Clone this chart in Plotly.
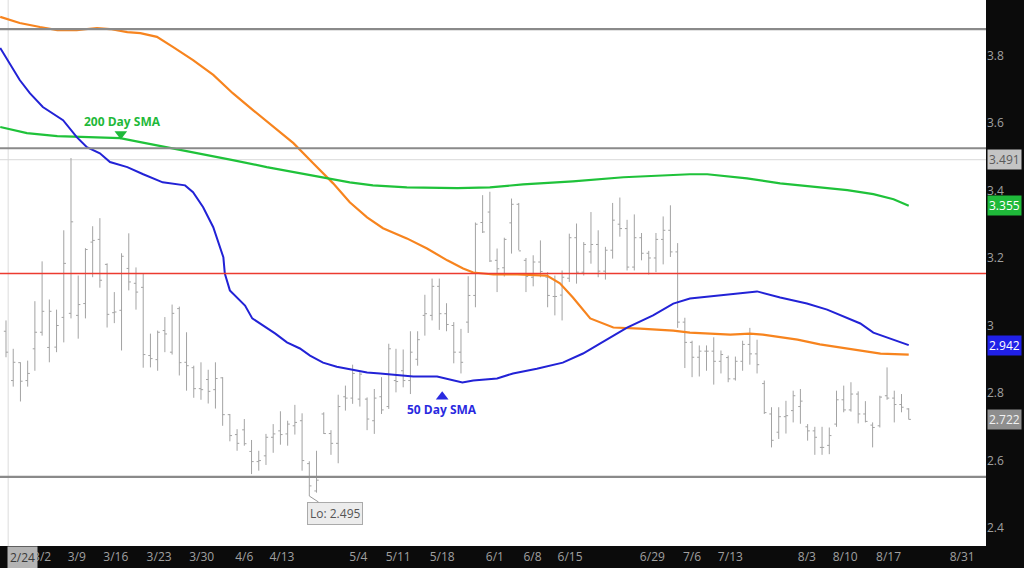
import plotly.graph_objs as go

# daily OHLC bars (trading day index 0..125)
opens = [2.983, 2.837, 2.890, 2.837, 2.931, 2.980, 2.935, 2.936, 3.024, 3.036,
         3.030, 3.065, 3.247, 3.255, 3.181, 3.038, 3.045, 3.169, 3.125, 3.113,
         2.911, 2.899, 2.985, 2.921, 3.050, 2.891, 2.875, 2.813, 2.840, 2.810,
         2.845, 2.736, 2.677, 2.691, 2.627, 2.597, 2.614, 2.669, 2.688, 2.679,
         2.703, 2.718, 2.591, 2.510, 2.738, 2.680, 2.651, 2.789, 2.785, 2.782,
         2.782, 2.718, 2.789, 2.760, 2.837, 2.866, 2.837, 2.900, 3.030, 3.030,
         3.116, 3.035, 3.000, 2.921, 3.010, 3.089, 3.305, 3.336, 3.193, 3.171,
         3.304, 3.359, 3.193, 3.143, 3.188, 3.143, 3.086, 3.090, 3.140, 3.260,
         3.158, 3.218, 3.240, 3.161, 3.223, 3.300, 3.287, 3.173, 3.260, 3.214,
         3.200, 3.255, 3.282, 3.218, 3.010, 2.950, 2.906, 2.924, 2.924, 2.894,
         2.905, 2.842, 2.894, 2.944, 2.916, 2.828, 2.738, 2.684, 2.730, 2.748,
         2.760, 2.700, 2.688, 2.639, 2.645, 2.708, 2.780, 2.750, 2.797, 2.738,
         2.705, 2.703, 2.792, 2.785, 2.766, 2.753]
highs = [3.015, 2.931, 2.891, 2.896, 3.072, 3.190, 3.077, 3.047, 3.282, 3.496,
         3.148, 3.229, 3.294, 3.318, 3.184, 3.099, 3.214, 3.273, 3.172, 3.154,
         2.976, 2.985, 3.025, 3.062, 3.056, 2.980, 2.881, 2.891, 2.869, 2.891,
         2.847, 2.738, 2.693, 2.723, 2.661, 2.629, 2.679, 2.708, 2.746, 2.718,
         2.765, 2.740, 2.598, 2.629, 2.743, 2.690, 2.795, 2.822, 2.884, 2.865,
         2.787, 2.812, 2.847, 2.946, 2.931, 2.929, 2.983, 2.983, 3.091, 3.139,
         3.139, 3.066, 3.010, 2.990, 3.146, 3.305, 3.386, 3.396, 3.228, 3.260,
         3.376, 3.363, 3.200, 3.208, 3.252, 3.158, 3.148, 3.163, 3.272, 3.302,
         3.247, 3.336, 3.282, 3.233, 3.363, 3.379, 3.313, 3.329, 3.274, 3.221,
         3.274, 3.323, 3.356, 3.244, 3.023, 2.955, 2.941, 2.941, 2.965, 2.926,
         2.911, 2.908, 2.955, 2.993, 2.958, 2.837, 2.758, 2.758, 2.777, 2.807,
         2.812, 2.708, 2.700, 2.700, 2.698, 2.807, 2.822, 2.832, 2.805, 2.776,
         2.713, 2.792, 2.876, 2.807, 2.797, 2.755]
lows = [2.906, 2.819, 2.775, 2.819, 2.866, 2.970, 2.891, 2.921, 2.950, 3.021,
        2.961, 3.021, 3.143, 3.112, 2.994, 3.007, 2.926, 3.104, 3.047, 2.875,
        2.876, 2.866, 2.921, 2.914, 2.852, 2.807, 2.786, 2.780, 2.769, 2.754,
        2.703, 2.657, 2.629, 2.644, 2.560, 2.570, 2.587, 2.623, 2.647, 2.644,
        2.677, 2.570, 2.495, 2.505, 2.679, 2.617, 2.592, 2.748, 2.768, 2.760,
        2.690, 2.679, 2.738, 2.753, 2.802, 2.817, 2.797, 2.881, 2.970, 3.015,
        2.987, 2.983, 2.888, 2.858, 2.978, 3.054, 3.274, 3.188, 3.099, 3.145,
        3.213, 3.223, 3.099, 3.116, 3.143, 3.054, 3.030, 3.015, 3.129, 3.124,
        3.148, 3.183, 3.143, 3.136, 3.198, 3.263, 3.163, 3.163, 3.193, 3.151,
        3.158, 3.181, 3.203, 2.993, 2.874, 2.847, 2.849, 2.866, 2.825, 2.858,
        2.832, 2.837, 2.866, 2.884, 2.858, 2.738, 2.639, 2.664, 2.680, 2.713,
        2.709, 2.659, 2.617, 2.617, 2.619, 2.700, 2.743, 2.745, 2.710, 2.713,
        2.639, 2.698, 2.780, 2.713, 2.743, 2.722]
closes = [2.921, 2.891, 2.835, 2.858, 2.980, 3.042, 3.042, 3.000, 3.184, 3.307,
          3.062, 3.225, 3.252, 3.134, 3.033, 3.040, 3.205, 3.129, 3.099, 2.914,
          2.902, 2.980, 2.975, 3.036, 2.890, 2.881, 2.813, 2.810, 2.805, 2.843,
          2.736, 2.674, 2.651, 2.650, 2.597, 2.600, 2.669, 2.679, 2.677, 2.708,
          2.713, 2.600, 2.525, 2.542, 2.680, 2.651, 2.760, 2.785, 2.858, 2.856,
          2.723, 2.785, 2.750, 2.931, 2.834, 2.837, 2.921, 2.958, 3.035, 3.116,
          3.035, 3.003, 2.921, 2.891, 3.089, 3.300, 3.277, 3.191, 3.168, 3.255,
          3.359, 3.221, 3.145, 3.188, 3.160, 3.089, 3.086, 3.143, 3.260, 3.158,
          3.240, 3.240, 3.161, 3.223, 3.312, 3.287, 3.173, 3.260, 3.214, 3.200,
          3.255, 3.282, 3.218, 3.010, 2.950, 2.906, 2.924, 2.924, 2.894, 2.914,
          2.842, 2.894, 2.944, 2.916, 2.884, 2.742, 2.660, 2.730, 2.733, 2.792,
          2.776, 2.688, 2.669, 2.639, 2.674, 2.780, 2.750, 2.797, 2.738, 2.716,
          2.698, 2.788, 2.785, 2.766, 2.758, 2.722]
bar_index = list(range(len(opens)))

# moving averages sampled along the bar index
sma50_x = [-0.8, 0.6, 1.9, 3.3, 5.1, 7.9, 9.8, 11.2, 13.0, 14.4, 16.8, 19.0, 21.7,
           24.8, 25.9, 27.3, 28.7, 30.1, 30.3, 31.0, 32.1, 33.1, 34.1, 35.6, 37.3,
           38.9, 40.7, 42.1, 43.9, 45.8, 48.1, 50.0, 51.8, 56.4, 59.7, 63.2, 64.7,
           68.0, 70.2, 73.5, 77.1, 79.9, 82.3, 86.0, 89.6, 92.4, 94.7, 97.5, 100.3,
           104.0, 107.2, 110.9, 113.7, 116.5, 118.3, 120.1, 122.9, 125.0]
sma50_y = [3.822, 3.772, 3.727, 3.688, 3.647, 3.608, 3.558, 3.528, 3.510, 3.484,
           3.469, 3.448, 3.424, 3.415, 3.395, 3.350, 3.291, 3.202, 3.154, 3.104,
           3.080, 3.059, 3.021, 3.000, 2.976, 2.950, 2.932, 2.911, 2.890, 2.878,
           2.869, 2.861, 2.858, 2.849, 2.849, 2.831, 2.837, 2.843, 2.858, 2.872,
           2.890, 2.917, 2.947, 2.994, 3.030, 3.065, 3.080, 3.086, 3.092, 3.101,
           3.083, 3.065, 3.047, 3.021, 3.006, 2.979, 2.958, 2.942]

sma100_x = [-0.8, 1.9, 4.7, 7.1, 9.8, 12.6, 14.4, 16.8, 18.6, 20.9, 23.1, 25.9,
            28.7, 31.4, 34.2, 37.0, 39.8, 42.5, 45.3, 47.6, 50.0, 52.2, 55.5, 58.3,
            61.1, 63.3, 64.7, 67.5, 70.8, 74.9, 76.7, 78.5, 80.9, 84.1, 87.8, 92.4,
            94.7, 100.3, 103.0, 104.8, 109.6, 112.7, 117.9, 121.1, 125.0]
sma100_y = [3.914, 3.896, 3.884, 3.875, 3.875, 3.881, 3.878, 3.869, 3.866, 3.855,
            3.825, 3.786, 3.742, 3.688, 3.638, 3.588, 3.540, 3.481, 3.421, 3.365,
            3.320, 3.288, 3.258, 3.228, 3.193, 3.169, 3.157, 3.151, 3.151, 3.148,
            3.125, 3.083, 3.021, 2.994, 2.991, 2.985, 2.979, 2.973, 2.976, 2.973,
            2.958, 2.944, 2.926, 2.917, 2.914]

sma200_x = [-0.8, 2.9, 7.1, 13.0, 15.8, 18.6, 22.3, 26.9, 31.4, 36.1, 40.7, 44.5,
            47.6, 50.8, 55.5, 62.5, 67.0, 71.6, 78.5, 85.5, 94.7, 97.1, 102.6,
            107.2, 111.8, 116.5, 120.1, 122.9, 125.0]
sma200_y = [3.588, 3.570, 3.561, 3.558, 3.555, 3.543, 3.528, 3.510, 3.490, 3.469,
            3.451, 3.436, 3.424, 3.415, 3.409, 3.407, 3.409, 3.418, 3.427, 3.439,
            3.448, 3.448, 3.436, 3.421, 3.412, 3.401, 3.389, 3.374, 3.355]

# date labels on the x axis (placed on the bar index scale)
tick_pos = [5.0, 9.8, 15.2, 21.2, 27.1, 33.0, 38.2, 48.8, 54.3, 60.4, 67.7, 72.9,
            78.1, 89.5, 95.0, 100.3, 110.9, 116.2, 122.2, 132.4]
tick_text = ["3/2", "3/9", "3/16", "3/23", "3/30", "4/6", "4/13", "5/4", "5/11",
             "5/18", "6/1", "6/8", "6/15", "6/29", "7/6", "7/13", "8/3", "8/10",
             "8/17", "8/31"]

# horizontal levels
gray_levels = [3.878, 3.525, 2.552]
resistance = 3.154
prior_close = 3.491
low_value = 2.495

FONT = "Open Sans"


def draw_picture():
    bars = go.Ohlc(
        x=bar_index, open=opens, high=highs, low=lows, close=closes,
        increasing=dict(line=dict(color="#a3a3a3", width=1)),
        decreasing=dict(line=dict(color="#a3a3a3", width=1)),
        tickwidth=0.3, hoverinfo="skip", showlegend=False)
    line100 = go.Scatter(x=sma100_x, y=sma100_y, mode="lines",
                         line=dict(color="#f7841e", width=2.2), showlegend=False)
    line200 = go.Scatter(x=sma200_x, y=sma200_y, mode="lines",
                         line=dict(color="#1fc23a", width=2.2), showlegend=False)
    line50 = go.Scatter(x=sma50_x, y=sma50_y, mode="lines",
                        line=dict(color="#2222d6", width=2), showlegend=False)
    # little pointers beside the labels
    pointers = go.Scatter(x=[15.9, 60.4], y=[3.567, 2.789], mode="markers",
                          marker=dict(symbol=["triangle-down", "triangle-up"],
                                      size=11, color=["#1fb93a", "#2a2ae0"]),
                          hoverinfo="skip", showlegend=False)

    shapes = [dict(type="line", xref="x", yref="paper", x0=0.3, x1=0.3, y0=0, y1=1,
                   line=dict(color="#dddddd", width=1), layer="below"),
              dict(type="line", xref="paper", yref="y", x0=0, x1=1,
                   y0=prior_close, y1=prior_close,
                   line=dict(color="#d8d8d8", width=1), layer="below"),
              dict(type="line", xref="paper", yref="y", x0=0, x1=1,
                   y0=resistance, y1=resistance,
                   line=dict(color="#ec3b30", width=1.5))]
    for lv in gray_levels:
        shapes.append(dict(type="line", xref="paper", yref="y", x0=0, x1=1,
                           y0=lv, y1=lv, line=dict(color="#8a8a8a", width=2.2)))

    def badge(val, bg, fg):
        return dict(xref="paper", yref="y", x=1, y=val, xanchor="left",
                    yanchor="middle", xshift=1, text=f"{val:.3f}",
                    showarrow=False, bgcolor=bg, borderpad=1,
                    font=dict(family=FONT, size=12, color=fg))

    annotations = [
        dict(x=16.1, y=3.605, text="<b>200 Day SMA</b>", showarrow=False,
             font=dict(family=FONT, size=12, color="#1fb93a")),
        dict(x=60.4, y=2.751, text="<b>50 Day SMA</b>", showarrow=False,
             font=dict(family=FONT, size=12, color="#2a2ae0")),
        dict(x=42, y=low_value, text=f"Lo: {low_value}", showarrow=True,
             arrowhead=0, arrowcolor="#999999", arrowwidth=1, ax=26, ay=17,
             bgcolor="#ececec", bordercolor="#aaaaaa", borderwidth=1, borderpad=2,
             font=dict(family=FONT, size=12, color="#555555")),
        dict(xref="x", yref="paper", x=2.35, y=-0.021, yanchor="middle",
             text="2/24", showarrow=False, bgcolor="#b4b4b4", borderpad=2,
             font=dict(family=FONT, size=12, color="#3a3a3a")),
        badge(prior_close, "#c4c4c4", "#5a5a5a"),
        badge(sma200_y[-1], "#1fb93a", "#ffffff"),
        badge(sma50_y[-1], "#2020e8", "#ffffff"),
        badge(closes[-1], "#8e8e8e", "#f2f2f2"),
    ]

    layout = go.Layout(
        width=1024, height=568,
        margin=dict(l=0, r=38, t=0, b=22),
        paper_bgcolor="#0b0b0b", plot_bgcolor="#ffffff",
        font=dict(family=FONT, size=12, color="#a0a0a0"),
        xaxis=dict(range=[-0.83, 135.7], tickmode="array", tickvals=tick_pos,
                   ticktext=tick_text, showgrid=False, zeroline=False,
                   showline=False, ticks="", ticklabelstandoff=2,
                   rangeslider=dict(visible=False),
                   tickfont=dict(family=FONT, size=12, color="#a0a0a0")),
        yaxis=dict(range=[2.347, 3.964], side="right", dtick=0.2, tick0=2.4,
                   showgrid=False, zeroline=False, showline=False, ticks="",
                   tickfont=dict(family=FONT, size=12, color="#a0a0a0")),
        shapes=shapes, annotations=annotations, hovermode=False)

    fig = go.Figure(data=[bars, line100, line200, line50, pointers], layout=layout)
    # page body has a default margin; drop it so the chart fills the window
    fig.write_html("out.html", config={"displayModeBar": False},
                   post_script="document.body.style.margin='0';"
                               "document.body.style.background='#0b0b0b';")


def main():
    draw_picture()


if __name__ == "__main__":
    main()
